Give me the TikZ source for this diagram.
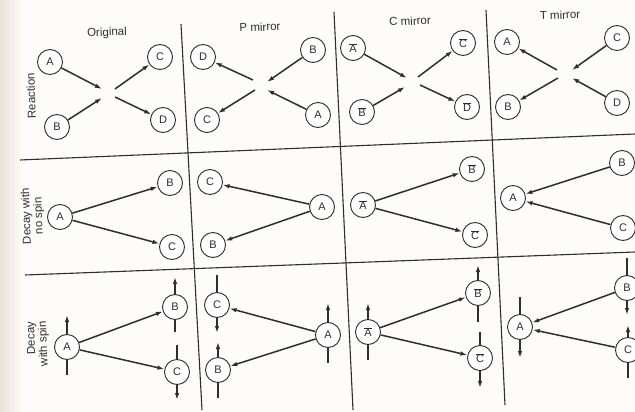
\documentclass[tikz,border=0pt]{standalone}
\usepackage{fontspec}
\setmainfont{Liberation Sans}
\usetikzlibrary{arrows.meta,backgrounds}
% antiparticle label: letter with a bar over it
\newcommand{\barred}[1]{\ensuremath{\overline{\mbox{#1}}}}
\definecolor{ink}{HTML}{2E2E2E}
\definecolor{paper}{HTML}{FDFCFA}
\definecolor{edge}{HTML}{EAE2D8}
\tikzset{
  particle/.style={circle, draw=ink, line width=0.9pt, fill=white, minimum size=25pt,
    inner sep=0pt, font=\fontsize{11}{12}\selectfont, text=ink},
  arr/.style={draw=ink, line width=1.5pt, -{Latex[length=7pt,width=4.5pt]}},
  spin/.style={draw=ink, line width=1.5pt, -{Latex[length=7pt,width=4.5pt]}},
  rule/.style={draw=ink, line width=1.1pt},
  head/.style={font=\fontsize{11.5}{13}\selectfont, text=ink, rotate=2},
  rowlab/.style={font=\fontsize{11.5}{12}\selectfont, text=ink, rotate=92},
}
\begin{document}
\begin{tikzpicture}[x=1pt,y=-1pt]
\useasboundingbox (0,0) rectangle (635,412);
\begin{scope}[on background layer]
  \fill[paper] (0,0) rectangle (635,412);
  \shade[left color=edge, right color=paper] (0,0) rectangle (22,412);
\end{scope}

% table rules
\draw[rule] (181,24) -- (202,410);
\draw[rule] (334,12) -- (353,410);
\draw[rule] (486,10) -- (505,405);
\draw[rule] (20,160) -- (635,134);
\draw[rule] (25,275) -- (635,252);

% column headings
\node[head] (hO) at (107,33) {Original};
\node[head] (hP) at (260,27) {P mirror};
\node[head] (hC) at (410,21) {C mirror};
\node[head] (hT) at (560,15) {T mirror};

% row headings
\node[rowlab] (lr) at (31,96) {Reaction};
\node[rowlab, align=center] (ln) at (33,216) {Decay with\\no spin};
\node[rowlab, align=right] (ls) at (38,344) {Decay\\with spin};

% ---------------- reactions ----------------
% original
\node[particle] (rOA) at (50,62) {A};
\node[particle] (rOB) at (57,127) {B};
\node[particle] (rOC) at (160,57) {C};
\node[particle] (rOD) at (163,120) {D};
\coordinate (rOinA) at (102,89);
\coordinate (rOinB) at (102,98);
\coordinate (rOoutC) at (115,89);
\coordinate (rOoutD) at (115,97);
\draw[arr] (rOA) -- (rOinA);
\draw[arr] (rOB) -- (rOinB);
\draw[arr] (rOoutC) -- (rOC);
\draw[arr] (rOoutD) -- (rOD);

% P mirror
\node[particle] (rPD) at (203,57) {D};
\node[particle] (rPB) at (313,50) {B};
\node[particle] (rPC) at (207,120) {C};
\node[particle] (rPA) at (318,115) {A};
\coordinate (rPinB) at (267,82);
\coordinate (rPinA) at (267,90);
\coordinate (rPoutD) at (253,80);
\coordinate (rPoutC) at (255,90);
\draw[arr] (rPB) -- (rPinB);
\draw[arr] (rPA) -- (rPinA);
\draw[arr] (rPoutD) -- (rPD);
\draw[arr] (rPoutC) -- (rPC);

% C mirror
\node[particle] (rCA) at (353,48) {\barred{A}};
\node[particle] (rCB) at (362,112) {\barred{B}};
\node[particle] (rCC) at (463,43) {\barred{C}};
\node[particle] (rCD) at (467,107) {\barred{D}};
\coordinate (rCinA) at (407,78);
\coordinate (rCinB) at (405,87);
\coordinate (rCoutC) at (418,77);
\coordinate (rCoutD) at (420,85);
\draw[arr] (rCA) -- (rCinA);
\draw[arr] (rCB) -- (rCinB);
\draw[arr] (rCoutC) -- (rCC);
\draw[arr] (rCoutD) -- (rCD);

% T mirror
\node[particle] (rTA) at (507,42) {A};
\node[particle] (rTC) at (617,38) {C};
\node[particle] (rTB) at (508,107) {B};
\node[particle] (rTD) at (617,103) {D};
\coordinate (rTinC) at (572,70);
\coordinate (rTinD) at (572,78);
\coordinate (rToutA) at (557,70);
\coordinate (rToutB) at (558,78);
\draw[arr] (rTC) -- (rTinC);
\draw[arr] (rTD) -- (rTinD);
\draw[arr] (rToutA) -- (rTA);
\draw[arr] (rToutB) -- (rTB);

% ---------------- decay, no spin ----------------
\node[particle] (nOA) at (60,217) {A};
\node[particle] (nOB) at (170,183) {B};
\node[particle] (nOC) at (172,247) {C};
\draw[arr] (nOA) -- (nOB);
\draw[arr] (nOA) -- (nOC);

\node[particle] (nPC) at (210,182) {C};
\node[particle] (nPA) at (322,207) {A};
\node[particle] (nPB) at (213,245) {B};
\draw[arr] (nPA) -- (nPC);
\draw[arr] (nPA) -- (nPB);

\node[particle] (nCA) at (363,205) {\barred{A}};
\node[particle] (nCB) at (472,169) {\barred{B}};
\node[particle] (nCC) at (475,235) {\barred{C}};
\draw[arr] (nCA) -- (nCB);
\draw[arr] (nCA) -- (nCC);

\node[particle] (nTA) at (513,198) {A};
\node[particle] (nTB) at (622,163) {B};
\node[particle] (nTC) at (623,228) {C};
\draw[arr] (nTB) -- (nTA);
\draw[arr] (nTC) -- (nTA);

% ---------------- decay with spin ----------------
\node[particle] (sOA) at (67,347) {A};
\node[particle] (sOB) at (175,307) {B};
\node[particle] (sOC) at (177,372) {C};
\draw[arr] (sOA) -- (sOB);
\draw[arr] (sOA) -- (sOC);

\node[particle] (sPC) at (217,305) {C};
\node[particle] (sPA) at (328,335) {A};
\node[particle] (sPB) at (218,370) {B};
\draw[arr] (sPA) -- (sPC);
\draw[arr] (sPA) -- (sPB);

\node[particle] (sCA) at (368,332) {\barred{A}};
\node[particle] (sCB) at (478,293) {\barred{B}};
\node[particle] (sCC) at (480,358) {\barred{C}};
\draw[arr] (sCA) -- (sCB);
\draw[arr] (sCA) -- (sCC);

\node[particle] (sTA) at (520,327) {A};
\node[particle] (sTB) at (627,288) {B};
\node[particle] (sTC) at (628,350) {C};
\draw[arr] (sTB) -- (sTA);
\draw[arr] (sTC) -- (sTA);

% spin arrows run through the particles, behind them
\begin{scope}[on background layer]
  \draw[spin] ([yshift=-28pt]sOA.center) -- ([yshift=32pt]sOA.center);
  \draw[spin] ([yshift=-25pt]sOB.center) -- ([yshift=30pt]sOB.center);
  \draw[spin] ([yshift=27pt]sOC.center) -- ([yshift=-28pt]sOC.center);

  \draw[spin] ([yshift=30pt]sPC.center) -- ([yshift=-28pt]sPC.center);
  \draw[spin] ([yshift=-28pt]sPA.center) -- ([yshift=32pt]sPA.center);
  \draw[spin] ([yshift=-28pt]sPB.center) -- ([yshift=28pt]sPB.center);

  \draw[spin] ([yshift=-28pt]sCA.center) -- ([yshift=29pt]sCA.center);
  \draw[spin] ([yshift=-29pt]sCB.center) -- ([yshift=28pt]sCB.center);
  \draw[spin] ([yshift=26pt]sCC.center) -- ([yshift=-30pt]sCC.center);

  \draw[spin] ([yshift=30pt]sTA.center) -- ([yshift=-31pt]sTA.center);
  \draw[spin] ([yshift=30pt]sTB.center) -- ([yshift=-27pt]sTB.center);
  \draw[spin] ([yshift=-28pt]sTC.center) -- ([yshift=25pt]sTC.center);
\end{scope}
\end{tikzpicture}
\end{document}
